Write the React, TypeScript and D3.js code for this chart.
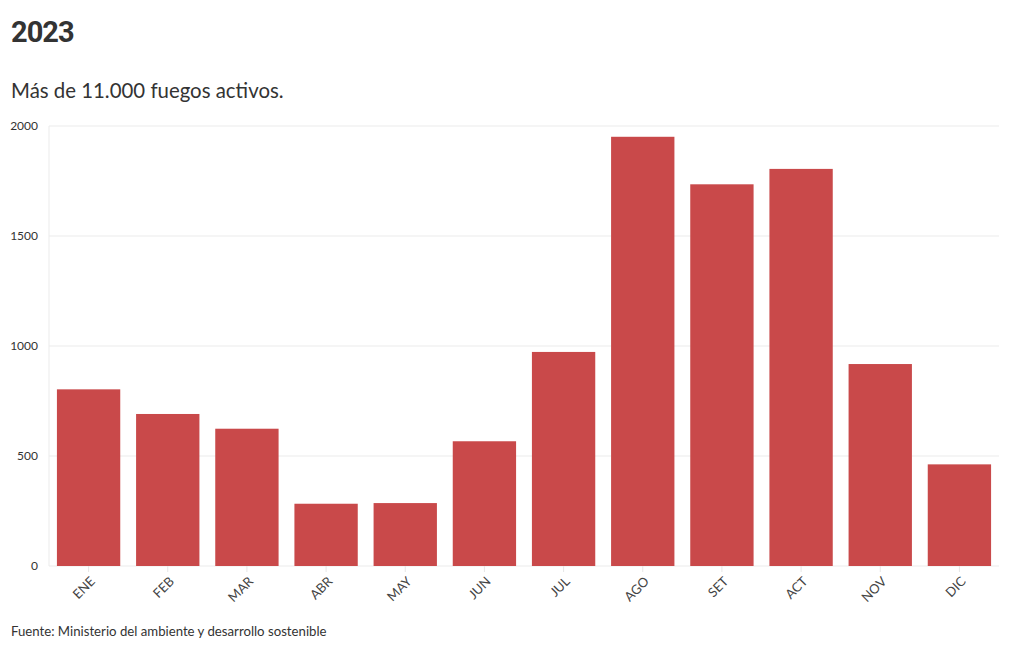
import React from "react";
import * as d3 from "d3";

const months = ["ENE", "FEB", "MAR", "ABR", "MAY", "JUN", "JUL", "AGO", "SET", "ACT", "NOV", "DIC"];
const fires = [803, 691, 624, 283, 286, 567, 973, 1951, 1735, 1805, 918, 462];
const yTicks = [0, 500, 1000, 1500, 2000];

const W = 1020;
const H = 650;
const margin = { left: 49, right: 999, top: 126, bottom: 566 };

export default function App() {
  const x = d3.scaleBand<string>().domain(months).range([margin.left, margin.right]).paddingInner(0.2).paddingOuter(0.1);
  const y = d3.scaleLinear().domain([0, 2000]).range([margin.bottom, margin.top]);
  const font = "'Source Sans Pro', Lato, 'Open Sans', sans-serif";
  return (
    <svg width={W} height={H} style={{ position: "absolute", left: 0, top: 0, background: "#fff" }}>
      <text x={11} y={42} fontFamily="Roboto, sans-serif" fontWeight={700} fontSize={29} fill="#333" letterSpacing={-1}>2023</text>
      <text x={11} y={98} fontFamily={font} fontSize={20.4} fill="#333">Más de 11.000 fuegos activos.</text>
      {yTicks.map((t) => (
        <g key={t}>
          <line x1={margin.left} x2={margin.right} y1={y(t)} y2={y(t)} stroke="#ebebeb" strokeWidth={1} />
          <text x={38} y={y(t)} dy="0.35em" textAnchor="end" fontFamily={font} fontSize={12} fill="#333">{t}</text>
        </g>
      ))}
      <line x1={margin.left} x2={margin.left} y1={margin.top} y2={margin.bottom} stroke="#ebebeb" />
      {months.map((m, i) => (
        <rect key={m} x={x(m)} y={y(fires[i])} width={x.bandwidth()} height={y(0) - y(fires[i])} fill="#c9494a" />
      ))}
      {months.map((m) => {
        const cx = (x(m) as number) + x.bandwidth() / 2;
        return (
          <g key={m}>
            <line x1={cx} x2={cx} y1={margin.bottom} y2={margin.bottom + 6} stroke="#e6e6e6" />
            <text transform={`translate(${cx + 4},${579}) rotate(-45)`} textAnchor="end" dy="0.35em" fontFamily={font} fontSize={13} fill="#444">{m}</text>
          </g>
        );
      })}
      <text x={11} y={636} fontFamily={font} fontSize={13.2} fill="#333">Fuente: Ministerio del ambiente y desarrollo sostenible</text>
    </svg>
  );
}
